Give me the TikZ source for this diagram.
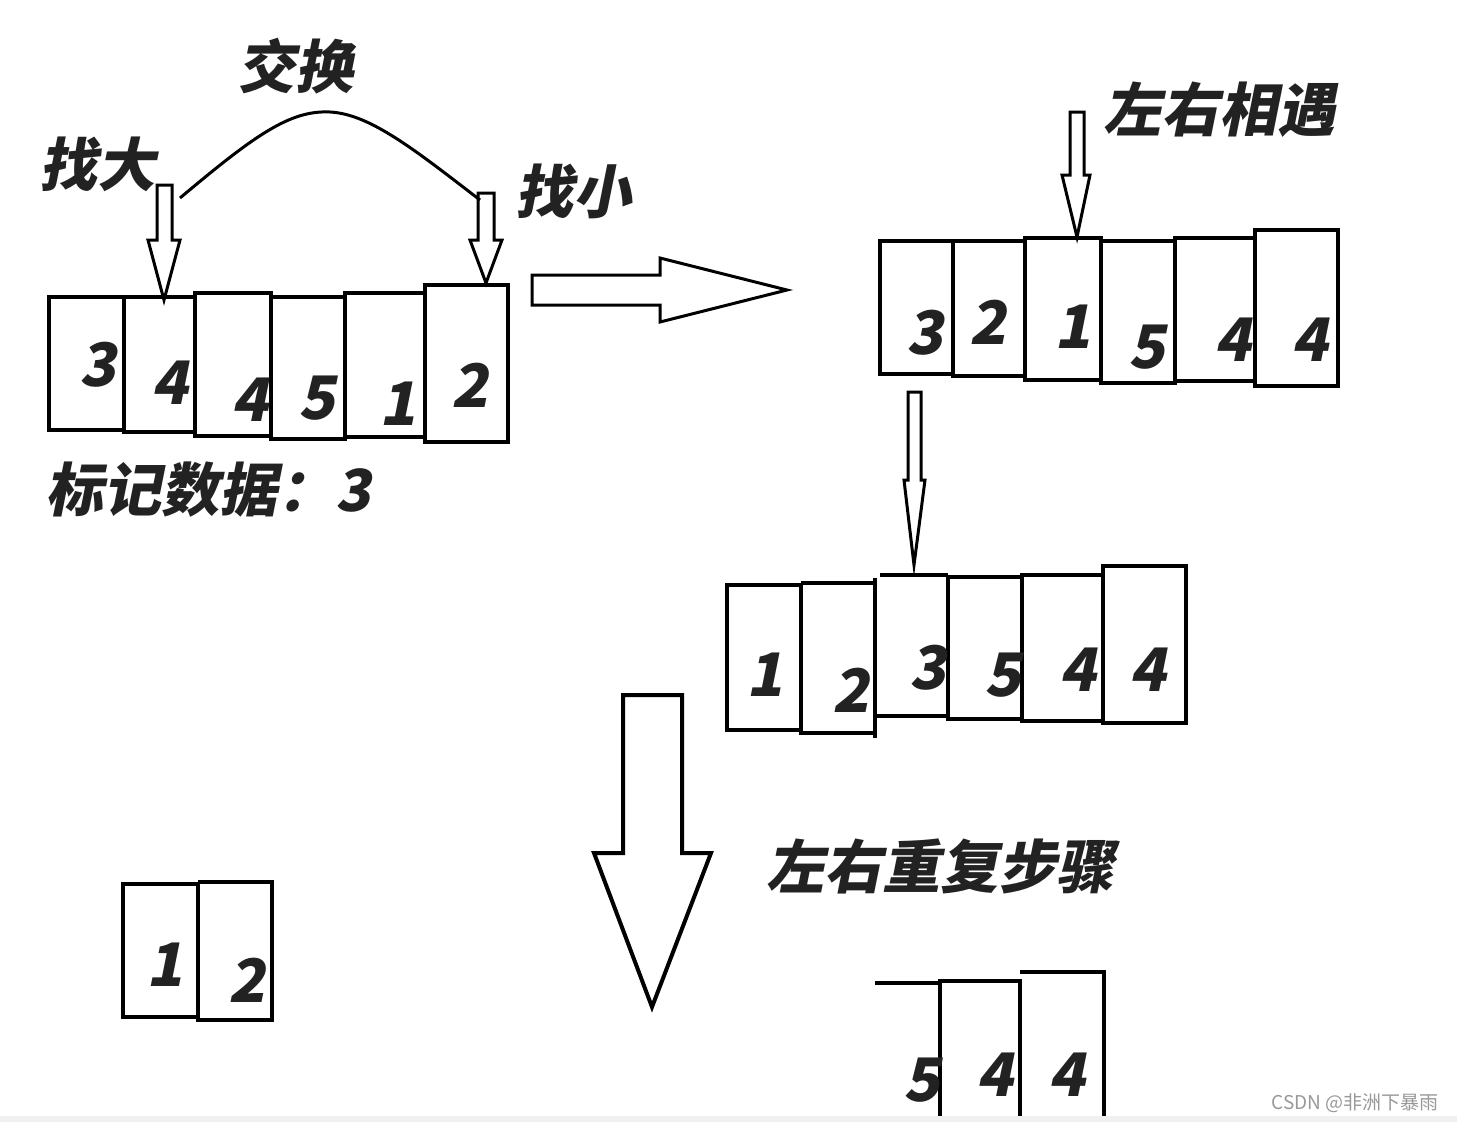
\documentclass[tikz,border=0pt]{standalone}
\usepackage{fontspec}
\newfontfamily\cjk[FakeSlant=0.2]{Noto Sans CJK SC}
\newfontfamily\cjkwm{Noto Sans CJK SC}
\begin{document}
\begin{tikzpicture}[x=1pt,y=-1pt,line join=miter]
\definecolor{ink}{HTML}{222222}
\tikzset{
  cell/.style={draw,line width=4pt},
  num/.style={font=\cjk\bfseries\fontsize{60}{60}\selectfont,inner sep=0pt,text=ink},
  lab/.style={font=\cjk\bfseries\fontsize{58}{58}\selectfont,inner sep=0pt,text=ink},
  harrow/.style={draw,line width=3pt,fill=white},
}
\useasboundingbox[fill=white] (0,0) rectangle (1457,1122);

% ---------- row 1 ----------
\draw[cell] (49,297) rectangle (124,430);
\draw[cell] (124,297) rectangle (195,432);
\draw[cell] (195,293) rectangle (271,436);
\draw[cell] (271,297) rectangle (345,439);
\draw[cell] (345,293) rectangle (425,437);
\draw[cell] (425,285) rectangle (508,442);
\node[num] (a1) at (98,365) {3};
\node[num] (a2) at (170,383) {4};
\node[num] (a3) at (250,400) {4};
\node[num] (a4) at (317,398) {5};
\node[num] (a5) at (398,404) {1};
\node[num] (a6) at (470,385) {2};

\draw[harrow] (157,185)--(172,185)--(172,240)--(180,240)--(164,300)--(148,240)--(157,240)--cycle;
\draw[harrow] (478,193)--(494,193)--(494,240)--(502,240)--(486,283)--(470,240)--(478,240)--cycle;
\draw[line width=3pt] (180,198) .. controls (255,135) and (290,110) .. (330,112)
   .. controls (370,114) and (415,150) .. (480,200);

\node[lab] (big) at (97,164) {找大};
\node[lab] (swap) at (295,66) {交换};
\node[lab] (small) at (573,191) {找小};
\node[lab] (mark) at (208,490) {标记数据：3};

\draw[harrow] (532,275)--(660,275)--(660,258)--(787,290)--(660,322)--(660,305)--(532,305)--cycle;

% ---------- row 2 ----------
\draw[cell] (880,241) rectangle (953,374);
\draw[cell] (953,241) rectangle (1025,376);
\draw[cell] (1025,238) rectangle (1101,380);
\draw[cell] (1101,241) rectangle (1175,383);
\draw[cell] (1175,238) rectangle (1255,381);
\draw[cell] (1255,230) rectangle (1338,386);
\node[num] (b1) at (925,333) {3};
\node[num] (b2) at (988,322) {2};
\node[num] (b3) at (1073,327) {1};
\node[num] (b4) at (1147,347) {5};
\node[num] (b5) at (1233,340) {4};
\node[num] (b6) at (1310,340) {4};
\draw[harrow] (1070,112)--(1084,112)--(1084,175)--(1090,175)--(1077,237)--(1062,175)--(1070,175)--cycle;
\node[lab] (meet) at (1219,110) {左右相遇};

\draw[harrow] (908,392)--(921,392)--(921,480)--(925,480)--(914,565)--(904,480)--(908,480)--cycle;

% ---------- row 3 ----------
\draw[cell] (727,585) rectangle (801,730);
\draw[cell] (801,583) -- (875,583);
\draw[cell] (801,583) -- (801,733) -- (875,733);
\draw[cell] (875,578) -- (875,738);
\draw[cell] (880,575) -- (948,575);
\draw[cell] (877,716) -- (948,716);
\draw[cell] (948,577) rectangle (1022,719);
\draw[cell] (1022,575) rectangle (1103,721);
\draw[cell] (1103,566) rectangle (1186,723);
\node[num] (c1) at (765,675) {1};
\node[num] (c2) at (851,690) {2};
\node[num] (c3) at (928,668) {3};
\node[num] (c4) at (1003,675) {5};
\node[num] (c5) at (1078,670) {4};
\node[num] (c6) at (1148,670) {4};

\draw[harrow,line width=4pt] (623,695)--(682,695)--(682,853)--(711,853)--(652,1007)--(594,853)--(623,853)--cycle;
\node[lab] (repeat) at (940,866) {左右重复步骤};

% ---------- row 4 left ----------
\draw[cell] (123,884) rectangle (198,1017);
\draw[cell] (198,882) -- (274,882);
\draw[cell] (198,882) -- (198,1020) -- (274,1020);
\draw[cell] (272,880) -- (272,1022);
\node[num] (d1) at (165,965) {1};
\node[num] (d2) at (247,980) {2};

% ---------- row 4 right ----------
\draw[cell] (875,983) -- (940,983);
\draw[cell] (940,1117) -- (940,981) -- (1020,981) -- (1020,1117);
\draw[cell] (1020,972) -- (1104,972) -- (1104,1117);
\node[num] (e1) at (922,1080) {5};
\node[num] (e2) at (995,1075) {4};
\node[num] (e3) at (1067,1075) {4};

% ---------- footer ----------
\fill[black!6] (0,1116) rectangle (1457,1122);
\node[font=\cjkwm\fontsize{19}{19}\selectfont,text=black!40,inner sep=0pt] (wm) at (1355,1103) {CSDN @非洲下暴雨};
\end{tikzpicture}
\end{document}
